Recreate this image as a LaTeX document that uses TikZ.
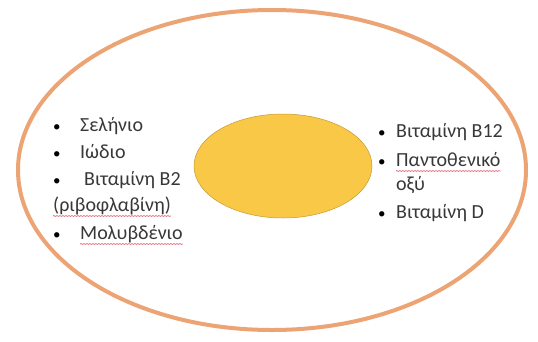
\documentclass[tikz,border=0pt]{standalone}
\usepackage{fontspec}
\setmainfont{Carlito}
\usepackage{tikz}
\usetikzlibrary{shapes,positioning,decorations.pathmorphing}
\definecolor{ringorange}{HTML}{EDA474}
\definecolor{yolk}{HTML}{F8C846}
\definecolor{yolkline}{HTML}{C89A30}
\definecolor{inktext}{HTML}{383838}
\definecolor{spellred}{HTML}{E07080}

\begin{document}
\begin{tikzpicture}[x=1pt, y=-1pt,
    item/.style={anchor=base west, inner sep=0pt, text=inktext, font=\fontsize{20}{24}\selectfont},
    dot/.style={anchor=base west, inner sep=0pt, text=black, font=\fontsize{15}{18}\selectfont},
    squiggle/.style={spellred, line width=0.7pt, decorate, decoration={snake, amplitude=0.5pt, segment length=3pt}}]
    \useasboundingbox[fill=white] (0,0) rectangle (538,341);

    % outer ring and inner egg
    \node[ellipse, draw=ringorange, line width=4pt, minimum width=508pt, minimum height=320pt] (ring) at (272,170) {};
    \node[ellipse, draw=yolkline, fill=yolk, line width=0.5pt, minimum width=178pt, minimum height=104pt] (egg) at (283,166) {};

    % left list
    \node[dot] (l1d) at (53,131) {•};
    \node[item] (l1) at (80,131) {Σελήνιο};
    \node[dot] (l2d) at (53,158) {•};
    \node[item] (l2) at (80,158) {Ιώδιο};
    \node[dot] (l3d) at (53,185) {•};
    \node[item] (l3) at (84,185) {Βιταμίνη Β2};
    \node[item] (l4) at (53,211) {(ριβοφλαβίνη)};
    \node[dot] (l5d) at (53,239) {•};
    \node[item] (l5) at (80,239) {Μολυβδένιο};

    % right list
    \node[dot] (r1d) at (378,137) {•};
    \node[item] (r1) at (396,137) {Βιταμίνη Β12};
    \node[dot] (r2d) at (378,166) {•};
    \node[item] (r2) at (396,166) {Παντοθενικό};
    \node[item] (r3) at (396,190) {οξύ};
    \node[dot] (r4d) at (378,218) {•};
    \node[item] (r4) at (396,218) {Βιταμίνη D};

    % spell-check marks
    \draw[squiggle] ([yshift=-5pt]l4.base west) -- ([yshift=-5pt]l4.base east);
    \draw[squiggle] ([yshift=-5pt]l5.base west) -- ([yshift=-5pt]l5.base east);
    \draw[squiggle] ([yshift=-5pt]r2.base west) -- ([yshift=-5pt]r2.base east);
\end{tikzpicture}
\end{document}
